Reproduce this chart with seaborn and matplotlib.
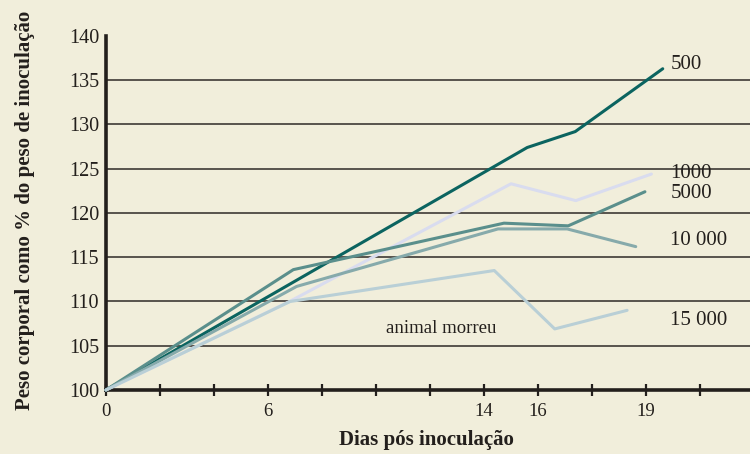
import numpy as np
import pandas as pd
import seaborn as sns
import matplotlib.pyplot as plt

# Axis positions (evenly spaced tick units) and their day labels
tick_pos = list(range(12))
label_pos = [0, 3, 7, 8, 10]
day_labels = ["0", "6", "14", "16", "19"]

# Weight curves (x in tick units, y in % of weight)
x_500 = [0, 7.8, 8.69, 10.31]
y_500 = [100, 127.4, 129.2, 136.3]
x_1000 = [0, 3.4, 7.5, 8.7, 10.1]
y_1000 = [100, 110.0, 123.3, 121.4, 124.4]
x_5000 = [0, 3.47, 7.37, 8.56, 9.98]
y_5000 = [100, 113.6, 118.85, 118.55, 122.4]
x_10000 = [0, 3.53, 7.26, 8.54, 9.81]
y_10000 = [100, 111.7, 118.2, 118.2, 116.2]
x_15000 = [0, 3.41, 7.19, 8.31, 9.65]
y_15000 = [100, 110.0, 113.5, 106.9, 109.0]

series_names = ["500", "1000", "5000", "10 000", "15 000"]
series_x = [x_500, x_1000, x_5000, x_10000, x_15000]
series_y = [y_500, y_1000, y_5000, y_10000, y_15000]
colors = ["#0b6460", "#d9dcef", "#5a8f8c", "#86aaab", "#b9cfd6"]
label_y = [136.8, 124.5, 122.2, 116.9, 107.8]

y_ticks = [100, 105, 110, 115, 120, 125, 130, 135, 140]

rows = []
for name, xs, ys in zip(series_names, series_x, series_y):
    for x, y in zip(xs, ys):
        rows.append({"dose": name, "x": x, "y": y})
df = pd.DataFrame(rows)

sns.set_style("ticks")
plt.rcParams["font.family"] = ["Liberation Serif", "DejaVu Serif"]

ink = "#231f1c"
bg = "#f1eedb"
fig = plt.figure(figsize=(7.5, 4.54), dpi=100, facecolor=bg)
ax = fig.add_axes([0.1413, 0.141, 0.8587, 0.7797], facecolor=bg)

for yv in y_ticks[1:-1]:
    ax.axhline(yv, color="#2e2a26", lw=1.1, zorder=1)

sns.lineplot(data=df, x="x", y="y", hue="dose", palette=colors,
             hue_order=series_names, sort=False, estimator=None,
             lw=2.2, legend=False, ax=ax, zorder=3, clip_on=False)

for name, ly in zip(series_names, label_y):
    ax.text(10.45, ly, name, fontsize=15, color=ink, va="center", ha="left")
ax.text(6.2, 107.0, "animal morreu", fontsize=13.5, color=ink,
        va="center", ha="center")

ax.set_xlim(0, (750 - 106) / 54)
ax.set_ylim(100, 140)
tick_text = dict(zip(label_pos, day_labels))
ax.set_xticks(tick_pos)
ax.set_xticklabels([tick_text.get(p, "") for p in tick_pos],
                   fontsize=13.5, color=ink)
ax.tick_params(axis="x", direction="inout", length=9, width=1.6,
               color=ink, pad=5)
ax.set_yticks(y_ticks)
ax.set_yticklabels([str(v) for v in y_ticks], fontsize=14.5, color=ink)
ax.tick_params(axis="y", length=0, pad=5)

for s in ["top", "right"]:
    ax.spines[s].set_visible(False)
for s in ["left", "bottom"]:
    ax.spines[s].set_linewidth(2.6)
    ax.spines[s].set_color(ink)

ax.set_xlabel("Dias pós inoculação", fontsize=15, fontweight="bold", color=ink)
ax.set_ylabel("Peso corporal como % do peso de inoculação", fontsize=15,
              fontweight="bold", color=ink)
ax.xaxis.set_label_coords((426 - 106) / 644, -(430 - 390) / 354)
ax.yaxis.set_label_coords(-(106 - 35) / 644, (390 - 210) / 354)

fig.savefig("out.png", dpi=100, facecolor=bg)
